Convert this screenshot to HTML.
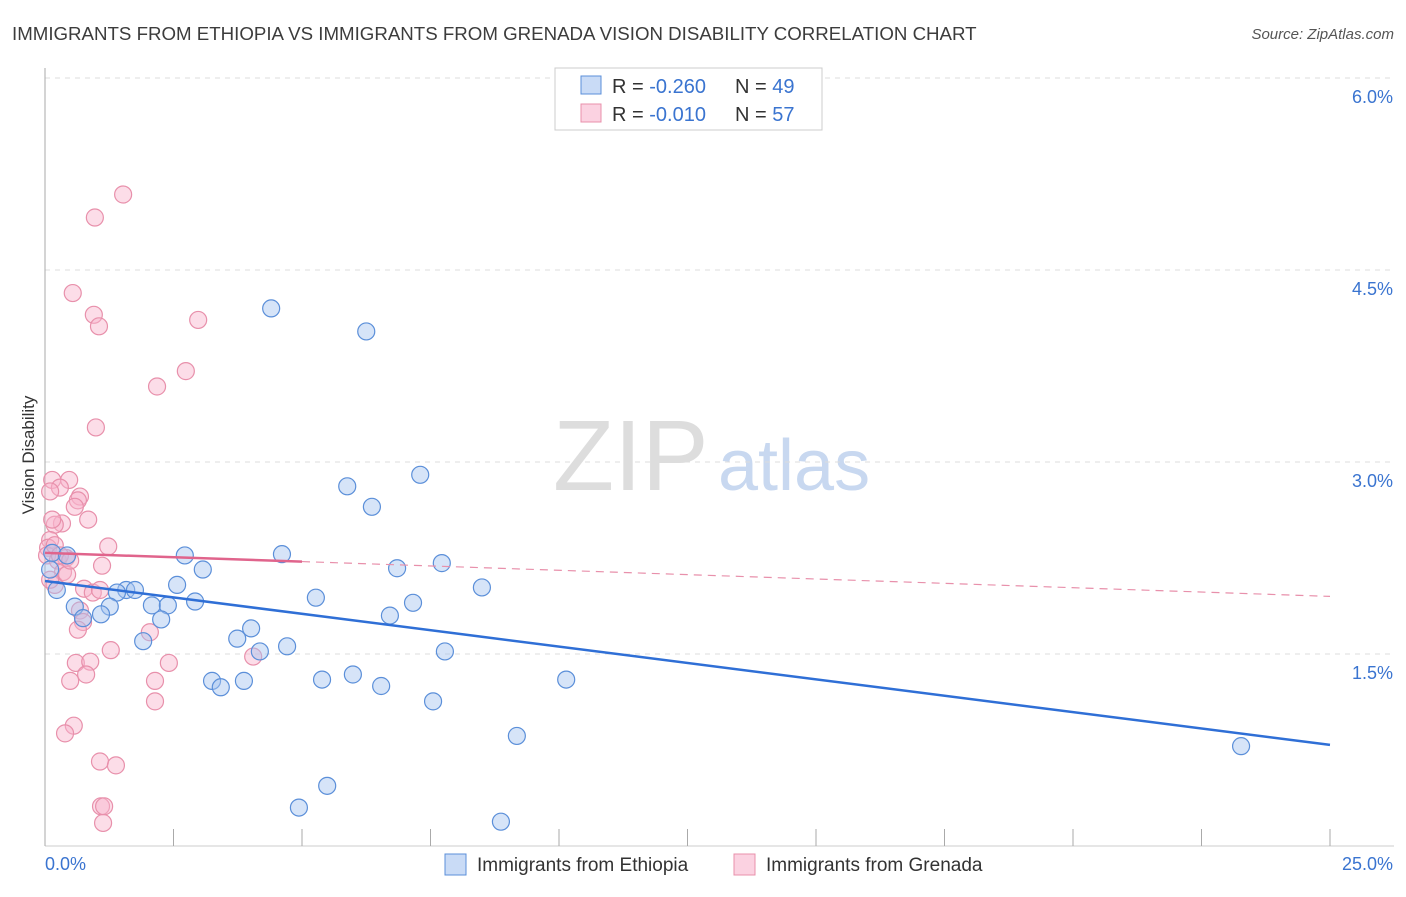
<!DOCTYPE html>
<html><head><meta charset="utf-8"><style>
body{margin:0;background:#fff;font-family:"Liberation Sans",sans-serif;}
svg text{font-family:"Liberation Sans",sans-serif;}
</style></head><body>
<svg id="chart" width="1406" height="892" xmlns="http://www.w3.org/2000/svg">
<text x="12" y="40" font-size="18.7" fill="#3c3c3c">IMMIGRANTS FROM ETHIOPIA VS IMMIGRANTS FROM GRENADA VISION DISABILITY CORRELATION CHART</text>
<text x="1394" y="39" font-size="15" fill="#555" text-anchor="end" font-style="italic">Source: ZipAtlas.com</text>
<text x="553" y="490" font-size="100" fill="#ddd" font-family="Liberation Serif">ZIP</text>
<text x="718" y="490" font-size="72" fill="#c8d8f0">atlas</text>
<g id="grid"></g>
<g id="axes"></g>
<g id="pts"></g>
<g id="trends"></g>
<text transform="translate(34,455) rotate(-90)" font-size="17" fill="#333" text-anchor="middle">Vision Disability</text>
<g>
<rect x="555" y="68" width="267" height="62" fill="#fff" stroke="#ccc"/>
<rect x="581" y="76" width="20" height="18" fill="rgba(165,195,240,0.6)" stroke="#5b8fd9"/>
<rect x="581" y="104" width="20" height="18" fill="rgba(248,180,205,0.6)" stroke="#e890ab"/>
<text x="612" y="93" font-size="20" fill="#333">R = <tspan fill="#3a74d0">-0.260</tspan></text>
<text x="735" y="93" font-size="20" fill="#333">N = <tspan fill="#3a74d0">49</tspan></text>
<text x="612" y="121" font-size="20" fill="#333">R = <tspan fill="#3a74d0">-0.010</tspan></text>
<text x="735" y="121" font-size="20" fill="#333">N = <tspan fill="#3a74d0">57</tspan></text>
</g>
<g>
<rect x="445" y="854" width="21" height="21" fill="rgba(165,195,240,0.6)" stroke="#5b8fd9"/>
<text x="477" y="871" font-size="19" fill="#333">Immigrants from Ethiopia</text>
<rect x="734" y="854" width="21" height="21" fill="rgba(248,180,205,0.6)" stroke="#e890ab"/>
<text x="766" y="871" font-size="19" fill="#333">Immigrants from Grenada</text>
</g>
</svg>
<script>
const yTicks=[1.5,3.0,4.5,6.0];
const yTickLabels=["1.5%","3.0%","4.5%","6.0%"];
const xTickVals=[0,2.5,5,7.5,10,12.5,15,17.5,20,22.5,25];
const xEndLabels=["0.0%","25.0%"];
const ethX=[4.40,6.25,5.88,6.36,7.30,2.72,3.07,4.61,6.85,7.72,8.50,5.27,7.16,6.71,2.57,1.58,1.75,1.40,2.08,2.39,2.92,1.26,0.58,1.09,0.74,2.26,1.91,3.74,4.01,4.71,4.18,7.78,3.25,3.42,3.87,5.39,5.99,6.54,7.55,10.14,9.18,23.27,4.94,5.49,8.87,0.14,0.43,0.23,0.10];
const ethY=[4.20,4.02,2.81,2.65,2.90,2.27,2.16,2.28,2.17,2.21,2.02,1.94,1.90,1.80,2.04,2.00,2.00,1.98,1.88,1.88,1.91,1.87,1.87,1.81,1.78,1.77,1.60,1.62,1.70,1.56,1.52,1.52,1.29,1.24,1.29,1.30,1.34,1.25,1.13,1.30,0.86,0.78,0.30,0.47,0.19,2.29,2.27,2.00,2.16];
const grnX=[1.52,0.97,0.54,0.95,1.05,2.98,2.74,2.18,0.99,0.47,0.14,0.29,0.68,0.64,0.10,0.58,0.84,0.33,0.19,0.10,0.06,1.23,0.04,0.25,0.41,0.35,1.11,0.19,0.76,0.93,0.68,0.74,0.64,1.28,2.04,0.60,0.88,0.80,0.49,2.41,2.14,2.14,0.56,0.39,4.05,1.07,1.38,1.09,1.15,1.13,0.14,0.10,0.43,1.07,0.19,0.29,0.49];
const grnY=[5.09,4.91,4.32,4.15,4.06,4.11,3.71,3.59,3.27,2.86,2.86,2.80,2.73,2.70,2.77,2.65,2.55,2.52,2.51,2.39,2.33,2.34,2.27,2.23,2.25,2.14,2.19,2.04,2.01,1.98,1.84,1.75,1.69,1.53,1.67,1.43,1.44,1.34,1.29,1.43,1.29,1.13,0.94,0.88,1.48,0.66,0.63,0.31,0.31,0.18,2.55,2.08,2.12,2.00,2.35,2.27,2.23];
const ethTrend=[2.07,0.79];
const grnTrend=[2.29,1.95];
const grnSolidEnd=5;
const NS="http://www.w3.org/2000/svg";
const X=v=>45+v/25*1285, Y=v=>846-v*128;
function mk(parent,tag,attrs){const e=document.createElementNS(NS,tag);for(const k in attrs)e.setAttribute(k,attrs[k]);document.getElementById(parent).appendChild(e);return e;}
yTicks.forEach((t,i)=>{
 const l=mk('grid','line',{x1:45,x2:1394,y1:Y(t),y2:Y(t),stroke:'#ddd','stroke-dasharray':'5,5'});
 
 
 const tx=mk('grid','text',{x:1393,y:Y(t)+25,'font-size':18,fill:'#3a74d0','text-anchor':'end'});
 tx.textContent=yTickLabels[i];
 
 
});
const ax=mk('axes','line',{x1:45,x2:45,y1:68,y2:846,stroke:'#aaa'});


const bx=mk('axes','line',{x1:45,x2:1394,y1:846,y2:846,stroke:'#ccc'});


xTickVals.forEach(v=>{
 const t=mk('axes','line',{x1:X(v),x2:X(v),y1:829,y2:846,stroke:'#aaa'});
 
 
});
const xl0=mk('axes','text',{x:45,y:870,'font-size':18,fill:'#3a74d0'});xl0.textContent=xEndLabels[0];


const xl1=mk('axes','text',{x:1393,y:870,'font-size':18,fill:'#3a74d0','text-anchor':'end'});xl1.textContent=xEndLabels[1];


grnX.forEach((v,i)=>{
 const c=mk('pts','circle',{cx:X(v),cy:Y(grnY[i]),r:8.5,fill:'rgba(248,180,205,0.45)',stroke:'#e890ab','stroke-width':1.2});
 
 
});
ethX.forEach((v,i)=>{
 const c=mk('pts','circle',{cx:X(v),cy:Y(ethY[i]),r:8.5,fill:'rgba(165,195,240,0.45)',stroke:'#5b8fd9','stroke-width':1.2});
 
 
});
const gy=v=>grnTrend[0]+(grnTrend[1]-grnTrend[0])*v/25;
const g1=mk('trends','line',{x1:X(0),y1:Y(gy(0)),x2:X(grnSolidEnd),y2:Y(gy(grnSolidEnd)),stroke:'#e0648c','stroke-width':2.5});


const g2=mk('trends','line',{x1:X(grnSolidEnd),y1:Y(gy(grnSolidEnd)),x2:X(25),y2:Y(gy(25)),stroke:'#e890ab','stroke-width':1.2,'stroke-dasharray':'8,6'});


const e1=mk('trends','line',{x1:X(0),y1:Y(ethTrend[0]),x2:X(25),y2:Y(ethTrend[1]),stroke:'#2f6fd6','stroke-width':2.5});


</script>
</body></html>
